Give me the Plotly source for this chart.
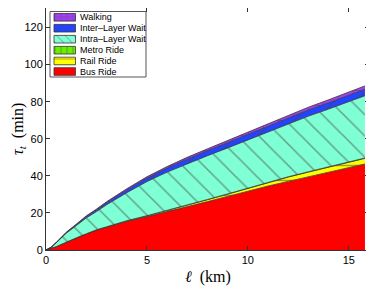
import plotly.graph_objects as go

# distance (km)
ell = [0, 0.25, 0.5, 0.75, 1, 1.5, 2, 2.5, 3, 4, 5, 6, 7, 8, 9, 10, 11, 12, 13, 14, 15, 15.8]
# time components (min), stacked bottom -> top
bus_ride = [0, 0.8, 1.8, 3.0, 4.2, 6.5, 8.7, 10.8, 12.4, 15.5, 18, 20.6, 23.3, 26.1, 28.9, 31.8, 34.5, 37, 39.4, 41.8, 44.3, 46.4]
rail_ride = [0, 0, 0, 0, 0, 0, 0, 0, 0, 0.2, 0.4, 0.6, 0.8, 1.0, 1.2, 1.5, 1.9, 2.3, 2.6, 2.8, 3.0, 3.0]
metro_ride = [0, 0, 0, 0, 0.05, 0.05, 0.05, 0.1, 0.1, 0.1, 0.1, 0.1, 0.1, 0.15, 0.15, 0.15, 0.15, 0.2, 0.2, 0.2, 0.2, 0.2]
intra_wait = [0, 0.6, 2.0, 3.2, 4.8, 6.6, 8.6, 9.8, 11.9, 15.1, 18.4, 20.7, 22.4, 23.6, 24.8, 25.9, 27.1, 28.4, 30.0, 31.2, 32.3, 33.6]
inter_wait = [0, 0.05, 0.1, 0.2, 0.3, 0.5, 0.7, 0.9, 1.1, 1.5, 1.9, 2.2, 2.5, 2.7, 2.9, 3.0, 3.1, 3.2, 3.3, 3.4, 3.5, 3.5]
walking = [0, 0.05, 0.1, 0.15, 0.2, 0.3, 0.4, 0.45, 0.5, 0.6, 0.7, 0.8, 0.9, 1.0, 1.1, 1.2, 1.3, 1.4, 1.5, 1.6, 1.7, 1.8]

x_ticks = [0, 5, 10, 15]
y_ticks = [0, 20, 40, 60, 80, 100, 120]

series = [
    ("Bus Ride", bus_ride, "#FF0000", ""),
    ("Rail Ride", rail_ride, "#FFFF00", "-"),
    ("Metro Ride", metro_ride, "#66F000", "|"),
    ("Intra\u2013Layer Wait", intra_wait, "#7FFFD4", "\\"),
    ("Inter\u2013Layer Wait", inter_wait, "#2244FF", "/"),
    ("Walking", walking, "#A040F0", "+"),
]

fig = go.Figure()
for name, vals, col, shp in series:
    fp = dict(shape=shp, bgcolor=col, fgcolor="#444444", size=15, solidity=0.1) if shp else None
    fig.add_trace(go.Scatter(
        x=ell, y=vals, name=name, mode="lines", stackgroup="one",
        line=dict(color="#333333", width=0.8), fillcolor=col,
        fillpattern=fp, hoverinfo="skip", showlegend=False))

# custom compact legend drawn on a pixel-space overlay axis (plot-area pixel units)
L_X0, L_X1, L_Y0, L_Y1 = 50, 146, 11.5, 77
SW_X0, SW_X1 = 54, 75.5
ROW_Y = [17.3, 28.2, 39.2, 50.2, 61.0, 71.5]
SW_H = 7.6
legend_items = list(reversed(series))
fig.add_shape(type="rect", xref="x2", yref="y2", x0=L_X0, x1=L_X1, y0=L_Y0, y1=L_Y1,
              line=dict(color="#555555", width=1), fillcolor="white", layer="below")
for (name, vals, col, shp), yc in zip(legend_items, ROW_Y):
    y0, y1 = yc - SW_H / 2, yc + SW_H / 2
    fp = dict(shape=shp, bgcolor=col, fgcolor="#444444", size=6, solidity=0.15) if shp else None
    fig.add_trace(go.Scatter(
        x=[SW_X0, SW_X1, SW_X1, SW_X0, SW_X0], y=[y0, y0, y1, y1, y0],
        xaxis="x2", yaxis="y2", mode="lines", fill="toself", fillcolor=col,
        fillpattern=fp, line=dict(color="#333333", width=0.8),
        hoverinfo="skip", showlegend=False))
    fig.add_annotation(x=SW_X1 + 2.5, y=yc, xref="x2", yref="y2", text=name,
                       showarrow=False, xanchor="left", yanchor="middle",
                       font=dict(family="Liberation Sans, Arial", size=9, color="black"))

title_font = dict(family="Liberation Serif, DejaVu Serif", size=16, color="black")
fig.add_annotation(x=0.5, y=0, xref="paper", yref="paper", yshift=-27,
                   text="<i>\u2113</i>\u2002(km)", showarrow=False,
                   xanchor="center", yanchor="middle", font=title_font)
fig.add_annotation(x=0, y=0.5, xref="paper", yref="paper", xshift=-28,
                   text="<i>\u03c4</i><sub><i>t</i></sub>\u2002(min)", showarrow=False,
                   textangle=-90, xanchor="center", yanchor="middle", font=title_font)

axis_common = dict(showline=True, linecolor="#333333", linewidth=1, mirror="ticks",
                   ticks="inside", ticklen=4, tickcolor="#333333", showgrid=False,
                   zeroline=False,
                   tickfont=dict(family="Liberation Sans, Arial", size=11, color="black"))

# page body has an 8px default margin: compensate so the plot area lands at
# x 46..369, y 8..250 in the 374x288 window
fig.update_layout(
    width=366, height=280,
    margin=dict(l=38, r=5, t=0, b=38, autoexpand=False),
    paper_bgcolor="white", plot_bgcolor="white",
    hovermode=False, showlegend=False,
    xaxis=dict(range=[0, 16], tickvals=x_ticks, **axis_common),
    yaxis=dict(range=[0, 130.5], tickvals=y_ticks, **axis_common),
    xaxis2=dict(overlaying="x", anchor="y2", range=[46, 369], visible=False, fixedrange=True),
    yaxis2=dict(overlaying="y", anchor="x2", range=[250, 8], visible=False, fixedrange=True),
)

fig.write_html("out.html")
